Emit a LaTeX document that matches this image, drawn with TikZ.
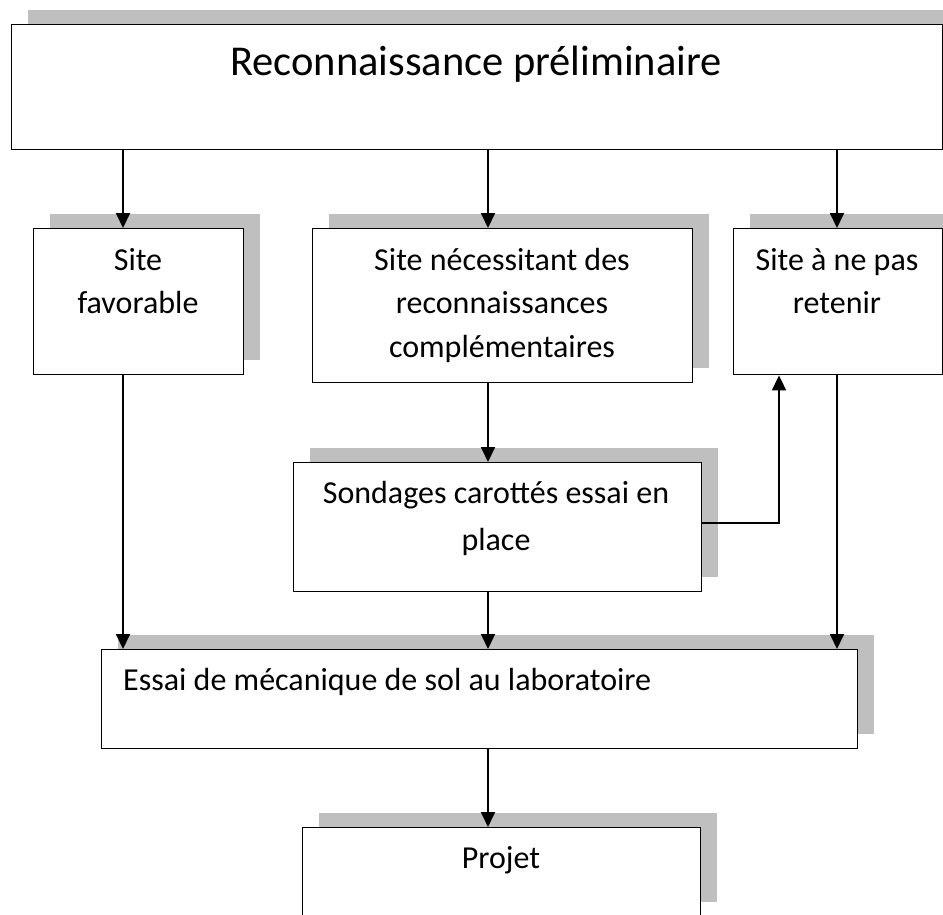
\documentclass[tikz,border=0pt]{standalone}
\usepackage{fontspec}
\setmainfont{Carlito}
\usetikzlibrary{arrows.meta,shadows}
\definecolor{shade}{HTML}{BFBFBF}
\begin{document}
\begin{tikzpicture}[x=1pt,y=-1pt,
  box/.style={draw=black, line width=1.4pt, fill=white, rectangle, inner sep=0pt,
    anchor=north west,
    general shadow={fill=shade, draw=none, shadow xshift=16pt, shadow yshift=15pt}},
  arr/.style={-{Triangle[width=14pt,length=15pt]}, line width=1.8pt},
  txt/.style={anchor=base, inner sep=0pt, font=\fontsize{32}{38}\selectfont},
  ttltxt/.style={anchor=base, inner sep=0pt, font=\fontsize{42.5}{50}\selectfont}]
\useasboundingbox (0,0) rectangle (943,914);
\clip (0,0) rectangle (943,914);
% boxes
\node[box, minimum width=931pt, minimum height=125pt] (top) at (11,24) {};
\node[box, minimum width=210pt, minimum height=146pt] (fav) at (33,228) {};
\node[box, minimum width=380pt, minimum height=154pt] (nec) at (312,228) {};
\node[box, minimum width=209pt, minimum height=146pt] (ret) at (733,228) {};
\node[box, minimum width=408pt, minimum height=129pt] (sond) at (293,462) {};
\node[box, minimum width=756pt, minimum height=99pt] (essai) at (101,649) {};
\node[box, minimum width=398pt, minimum height=89pt] (proj) at (302,827) {};
% texts
\node[ttltxt] (tTop) at (476,75) {Reconnaissance préliminaire};
\node[txt] (tFavA) at (138,270) {Site};
\node[txt] (tFavB) at (138,313) {favorable};
\node[txt] (tNecA) at (502,270) {Site nécessitant des};
\node[txt] (tNecB) at (502,313) {reconnaissances};
\node[txt] (tNecC) at (502,357) {complémentaires};
\node[txt] (tRetA) at (837,270) {Site à ne pas};
\node[txt] (tRetB) at (837,313) {retenir};
\node[txt] (tSondA) at (496,503) {Sondages carottés essai en};
\node[txt] (tSondB) at (496,550) {place};
\node[txt, anchor=base west] (tEssai) at (123,690) {Essai de mécanique de sol au laboratoire};
\node[txt] (tProj) at (501,868) {Projet};
% connector columns
\coordinate (xL) at (123,0);
\coordinate (xM) at (488,0);
\coordinate (xR) at (837,0);
\coordinate (xU) at (779,0);
\coordinate (yS) at (0,523);
% connectors
\draw[arr] (xL |- top.south) -- (xL |- fav.north);
\draw[arr] (xM |- top.south) -- (xM |- nec.north);
\draw[arr] (xR |- top.south) -- (xR |- ret.north);
\draw[arr] (xL |- fav.south) -- (xL |- essai.north);
\draw[arr] (xM |- nec.south) -- (xM |- sond.north);
\draw[arr] (xM |- sond.south) -- (xM |- essai.north);
\draw[arr] (xR |- ret.south) -- (xR |- essai.north);
\draw[arr] (sond.east |- yS) -| (xU |- ret.south);
\draw[arr] (xM |- essai.south) -- (xM |- proj.north);
\end{tikzpicture}
\end{document}
